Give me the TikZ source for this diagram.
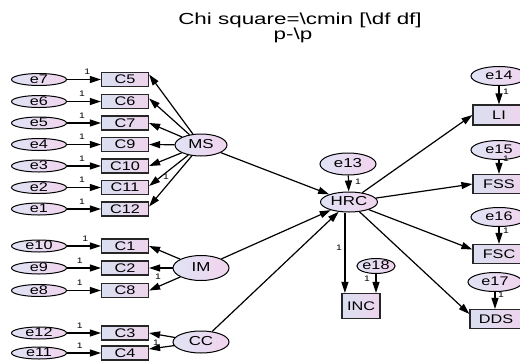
\documentclass[tikz,border=0pt]{standalone}
\usepackage{fontspec}
\setmainfont[FakeStretch=1.3]{Liberation Sans}
\newfontfamily\titlefont[FakeStretch=1.4]{Liberation Sans}
\usetikzlibrary{shapes.geometric,arrows.meta}
\definecolor{boxL}{RGB}{218,223,241}
\definecolor{boxR}{RGB}{238,212,236}
\definecolor{ellL}{RGB}{224,227,245}
\definecolor{ellR}{RGB}{241,212,238}
\begin{document}
\begin{tikzpicture}[x=1pt,y=-1pt,
  obsbox/.style={rectangle,draw=black!85,line width=1.2pt,left color=boxL,right color=boxR,
    inner sep=0pt,minimum width=47pt,minimum height=14pt,font=\fontsize{12.5}{13}\selectfont},
  errell/.style={ellipse,draw=black,line width=1pt,left color=ellL,right color=ellR,
    inner sep=0pt,minimum width=55pt,minimum height=12pt,text height=7.5pt,text depth=0pt,
    font=\fontsize{12.5}{13}\selectfont},
  latell/.style={ellipse,draw=black,line width=1pt,left color=ellL,right color=ellR,
    inner sep=0pt,minimum width=56pt,minimum height=22pt,text height=7.5pt,text depth=0pt,
    font=\fontsize{13}{14}\selectfont},
  sarr/.style={-{Triangle[length=11pt,width=7pt]},line width=1.2pt,black},
  lone/.style={font=\fontsize{8}{9}\selectfont,inner sep=0pt}
]
\useasboundingbox (0,0) rectangle (520,360);
\clip (0,0) rectangle (520,360);

% title
\node[font=\titlefont\fontsize{16}{17}\selectfont] (t1) at (300,20.5) {Chi square=\textbackslash cmin [\textbackslash df df]};
\node[font=\titlefont\fontsize{16}{17}\selectfont] (t2) at (293,35.5) {p-\textbackslash p};

% left error terms and indicators
\foreach \e/\c/\y/\p in {7/5/79.5/0.6, 6/6/101.5/0.44, 5/7/123/0.44, 4/9/144.5/0.44,
                         3/10/166/0.44, 2/11/187.5/0.44, 1/12/209/0.44,
                         10/1/246/0.54, 9/2/268/0.38, 8/8/290.5/0.38,
                         12/3/333/0.38, 11/4/353/0.38}{
  \node[errell] (e\e) at (39,\y) {e\e};
  \node[obsbox] (C\c) at (125,\y) {C\c};
  \draw[sarr] (e\e) -- node[pos=\p,above=4pt,lone] (le\e) {1} (C\c);
}

% latent variables
\node[latell,minimum width=52pt] (MS) at (201,145) {MS};
\node[latell,minimum height=25pt] (IM) at (201,268) {IM};
\node[latell] (CC) at (201,342) {CC};
\node[latell,minimum width=57pt,minimum height=20pt] (HRC) at (349,202) {HRC};
\node[latell] (e13) at (348,164) {e13};

% loadings
\draw[sarr] (MS) -- ([yshift=5pt]C5.east);
\draw[sarr] (MS) -- ([yshift=3pt]C6.east);
\draw[sarr] (MS) -- (C7.east);
\draw[sarr] (MS) -- (C9.east);
\draw[sarr] (MS) -- (C10.east);
\draw[sarr] (MS) -- ([yshift=1.5pt]C11.east);
\draw[sarr] (MS) -- ([yshift=2.5pt]C12.east);
\node[lone] (l11) at (166,177) {1};

\draw[sarr] (IM) -- (C1.east);
\draw[sarr] (IM) -- (C2.east);
\draw[sarr] (IM) -- (C8.east);
\node[lone] (l8) at (158,277) {1};

\draw[sarr] (CC) -- (C3.east);
\draw[sarr] (CC) -- ([yshift=4pt]C4.east);
\node[lone] (l4) at (156,343) {1};

% structural paths
\draw[sarr] (MS) -- (HRC);
\draw[sarr] (IM) -- (HRC);
\draw[sarr] (CC) -- (HRC);
\draw[sarr] (e13) -- (HRC);
\node[lone] (l13) at (358,182) {1};

% right side
\node[errell,minimum width=56pt,minimum height=19pt] (e14) at (499,76) {e14};
\node[obsbox,minimum width=52pt,minimum height=20pt] (LI) at (499,115) {LI};
\node[errell,minimum width=56pt,minimum height=19pt] (e15) at (499,150) {e15};
\node[obsbox,minimum width=52pt,minimum height=19pt] (FSS) at (499,184) {FSS};
\node[errell,minimum width=56pt,minimum height=19pt] (e16) at (499,217) {e16};
\node[obsbox,minimum width=52pt,minimum height=19pt] (FSC) at (499,254) {FSC};
\node[errell,minimum width=54pt,minimum height=19pt] (e17) at (495,282) {e17};
\node[obsbox,minimum width=52pt,minimum height=19pt] (DDS) at (496,319) {DDS};

\draw[sarr] (HRC) -- (LI.west);
\draw[sarr] (HRC) -- (FSS.west);
\draw[sarr] (HRC) -- ([yshift=4.5pt]FSC.west);
\draw[sarr] (HRC) -- ([yshift=5pt]DDS.west);

\draw[sarr] (e14) -- (e14.south |- LI.north);
\draw[sarr] (e15) -- (e15.south |- FSS.north);
\draw[sarr] (e16) -- (e16.south |- FSC.north);
\draw[sarr] (e17) -- (e17.south |- DDS.north);
\node[lone] (l14) at (506,92) {1};
\node[lone] (l15) at (506,159) {1};
\node[lone] (l16) at (506,231) {1};
\node[lone] (l17) at (501,295) {1};

% INC
\node[obsbox,minimum width=38pt,minimum height=25pt] (INC) at (361,306) {INC};
\node[errell,minimum width=32pt,minimum height=15pt] (e18) at (376,266) {e18};
\coordinate (incin) at ([xshift=3.5pt]INC.north west);
\draw[sarr] (HRC.south -| incin) -- (incin);
\draw[sarr] (e18) -- (e18.south |- INC.north);
\node[lone] (lin) at (339,248) {1};
\node[lone] (l18) at (367,279) {1};
\end{tikzpicture}
\end{document}
